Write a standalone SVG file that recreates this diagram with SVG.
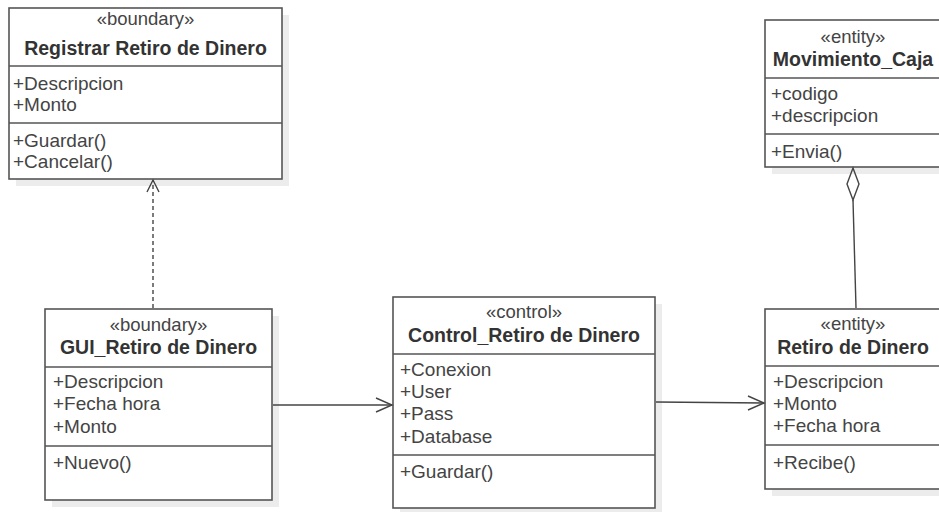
<svg xmlns="http://www.w3.org/2000/svg" width="939" height="512" viewBox="0 0 939 512">
<style>
.shadow{fill:#ececec;stroke:none}
.box{fill:#fff;stroke:#555;stroke-width:1.6}
.sep{stroke:#555;stroke-width:1.6}
.st{font-family:"Liberation Sans",Arial,sans-serif;font-size:18.5px;fill:#444;text-anchor:middle}
.ti{font-family:"Liberation Sans",Arial,sans-serif;font-size:19.5px;font-weight:bold;fill:#333;text-anchor:middle}
.tx{font-family:"Liberation Sans",Arial,sans-serif;font-size:19px;fill:#444}
.conn{fill:none;stroke:#444;stroke-width:1.4}
</style>
<rect width="939" height="512" fill="#fff"/>

<g id="registrar">
<rect class="shadow" x="16" y="15" width="273" height="171"/>
<rect class="box" x="9" y="8" width="273" height="171"/>
<line class="sep" x1="9" y1="66" x2="282" y2="66"/>
<line class="sep" x1="9" y1="123" x2="282" y2="123"/>
<text class="st" x="145.5" y="25">«boundary»</text>
<text class="ti" x="145.5" y="55">Registrar Retiro de Dinero</text>
<text class="tx" x="13" y="90">+Descripcion</text>
<text class="tx" x="13" y="111">+Monto</text>
<text class="tx" x="13" y="147">+Guardar()</text>
<text class="tx" x="13" y="168">+Cancelar()</text>
</g>

<g id="movimiento">
<rect class="shadow" x="772" y="27" width="180" height="147"/>
<rect class="box" x="765" y="20" width="180" height="147"/>
<line class="sep" x1="765" y1="78" x2="945" y2="78"/>
<line class="sep" x1="765" y1="134" x2="945" y2="134"/>
<text class="st" x="853" y="43">«entity»</text>
<text class="ti" x="853" y="66">Movimiento_Caja</text>
<text class="tx" x="771" y="100">+codigo</text>
<text class="tx" x="771" y="122">+descripcion</text>
<text class="tx" x="771" y="158">+Envia()</text>
</g>

<g id="gui">
<rect class="shadow" x="52" y="316" width="227" height="191"/>
<rect class="box" x="45" y="309" width="227" height="191"/>
<line class="sep" x1="45" y1="367" x2="272" y2="367"/>
<line class="sep" x1="45" y1="446" x2="272" y2="446"/>
<text class="st" x="158.5" y="331">«boundary»</text>
<text class="ti" x="158.5" y="354">GUI_Retiro de Dinero</text>
<text class="tx" x="53" y="388">+Descripcion</text>
<text class="tx" x="53" y="410">+Fecha hora</text>
<text class="tx" x="53" y="433">+Monto</text>
<text class="tx" x="53" y="469">+Nuevo()</text>
</g>

<g id="control">
<rect class="shadow" x="400" y="304" width="262" height="211"/>
<rect class="box" x="393" y="297" width="262" height="211"/>
<line class="sep" x1="393" y1="354" x2="655" y2="354"/>
<line class="sep" x1="393" y1="455" x2="655" y2="455"/>
<text class="st" x="524" y="318">«control»</text>
<text class="ti" x="524" y="342">Control_Retiro de Dinero</text>
<text class="tx" x="400" y="376">+Conexion</text>
<text class="tx" x="400" y="398">+User</text>
<text class="tx" x="400" y="420">+Pass</text>
<text class="tx" x="400" y="443">+Database</text>
<text class="tx" x="400" y="478">+Guardar()</text>
</g>

<g id="retiro">
<rect class="shadow" x="772" y="316" width="180" height="180"/>
<rect class="box" x="765" y="309" width="180" height="180"/>
<line class="sep" x1="765" y1="366" x2="945" y2="366"/>
<line class="sep" x1="765" y1="445" x2="945" y2="445"/>
<text class="st" x="853" y="330">«entity»</text>
<text class="ti" x="853" y="354">Retiro de Dinero</text>
<text class="tx" x="773" y="388">+Descripcion</text>
<text class="tx" x="773" y="410">+Monto</text>
<text class="tx" x="773" y="432">+Fecha hora</text>
<text class="tx" x="773" y="469">+Recibe()</text>
</g>

<g id="connectors">
<line class="conn" x1="153" y1="308" x2="153" y2="180" stroke-dasharray="4,3"/>
<polyline class="conn" points="147,192 153,180 159,192"/>
<line class="conn" x1="273" y1="405" x2="392" y2="405"/>
<polyline class="conn" points="376,398 392,405 376,412"/>
<line class="conn" x1="656" y1="402" x2="764" y2="403"/>
<polyline class="conn" points="748,396 764,403 748,410"/>
<polygon class="conn" points="853,168 859,184 853,200 847,184" fill="#fff"/>
<line class="conn" x1="853" y1="200" x2="856" y2="308"/>
</g>
</svg>
